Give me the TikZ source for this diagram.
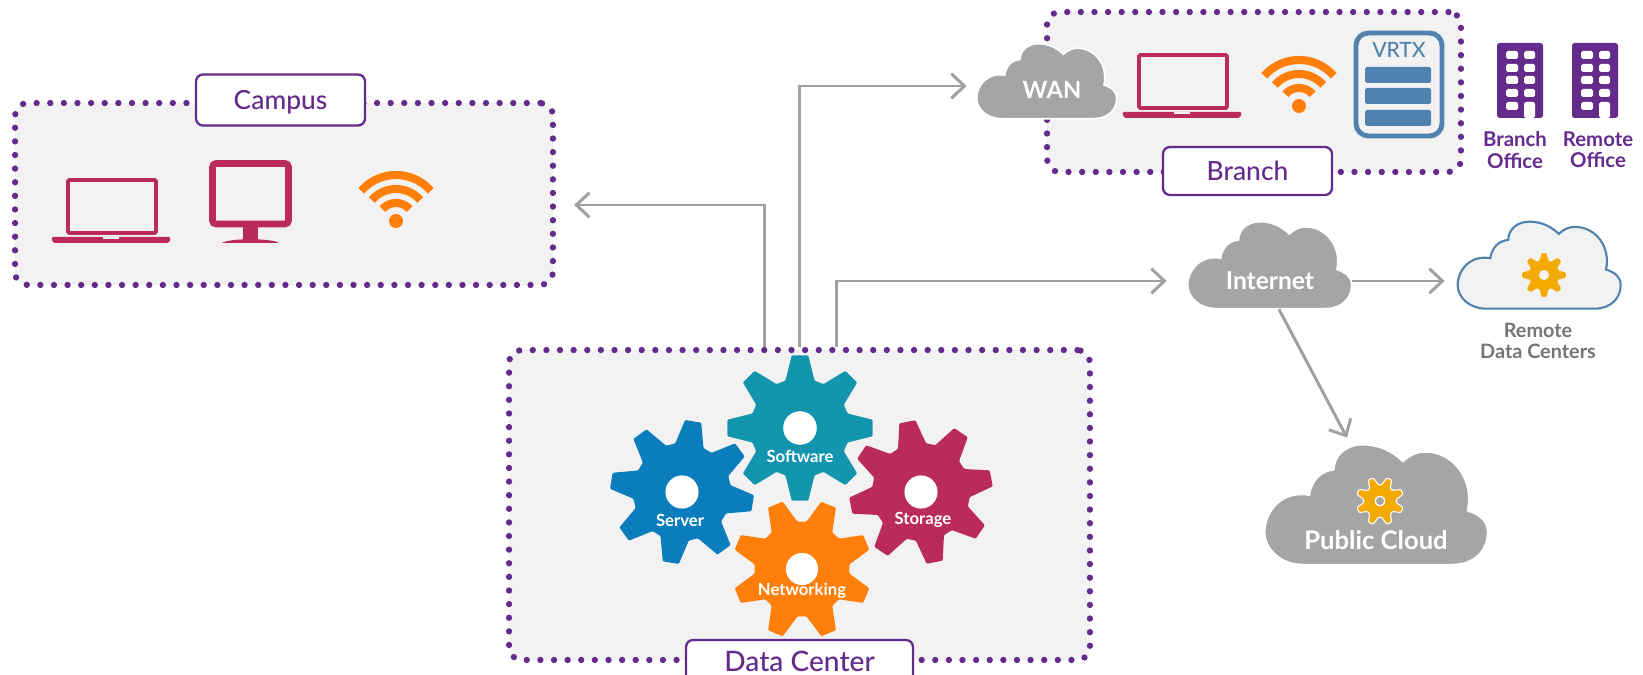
\documentclass[tikz,border=0pt]{standalone}
\usepackage{fontspec}
\setmainfont{Lato}
\newfontfamily\tagfont{Lato Medium}
\usepackage{xcolor}
\usetikzlibrary{positioning}
\usetikzlibrary{arrows.meta}
\usetikzlibrary{calc}
\definecolor{dcpurple}{HTML}{642B8C}
\definecolor{dcpanel}{HTML}{F2F2F2}
\definecolor{dccrimson}{HTML}{BB2A5C}
\definecolor{dcorange}{HTML}{FF7F0A}
\definecolor{dcteal}{HTML}{1395B0}
\definecolor{dcblue}{HTML}{0B7DBD}
\definecolor{dcgold}{HTML}{F2A900}
\definecolor{dccloud}{HTML}{A5A5A5}
\definecolor{dcline}{HTML}{A0A0A0}
\definecolor{dcsteel}{HTML}{4F82AE}
\definecolor{dctext}{HTML}{757575}
\tikzset{
  panel/.style={draw=dcpurple,fill=dcpanel,line width=3.6pt,line cap=round,dash pattern=on 0pt off 7.75pt,rounded corners=0.25cm,inner sep=0pt},
  tag/.style={draw=dcpurple,fill=white,line width=1.3pt,rounded corners=0.14cm,inner sep=0pt,text=dcpurple,font=\tagfont\fontsize{#1}{16}\selectfont,text height=2.3ex,text depth=.25ex},
  flow/.style={draw=dcline,line width=1.7pt,-{Straight Barb[length=7.5pt,width=14pt,line width=1.7pt]}},
  cloudbox/.style={inner sep=0pt},
  cloudtext/.style={text=white,inner sep=0pt,font=\fontsize{#1}{#1}\selectfont\bfseries},
  geartext/.style={text=white,inner sep=0pt,font=\fontsize{9.5}{10}\selectfont\bfseries},
  gray cloud/.style={fill=dccloud,draw=white,line width=1pt},
  pics/cloudshape/.style={code={
    \path[pic actions] (17,100) -- (84,100) .. controls (94,100) and (100,88) .. (100,73) .. controls (100,63) and (96,58) .. (91,55) .. controls (94,30) and (85,6) .. (72,6) .. controls (68,6) and (65,9) .. (62,14) .. controls (57,5) and (51,0) .. (44,0) .. controls (36,0) and (31,10) .. (31,21) .. controls (25,22) and (21,30) .. (20,42) .. controls (8,38) and (0,55) .. (0,73) .. controls (0,88) and (8,100) .. (17,100) -- cycle;
  }},
  pics/gearshape/.style={code={
    \path[pic actions,rounded corners=0.6pt] (-17:.68) \foreach \a in {0,45,...,315} { -- (\a-17:.68) -- (\a-6.5:1) -- (\a+6.5:1) -- (\a+17:.68) } -- cycle;
    \fill[#1] (0,0) circle (.23);
  }},
  pics/laptopshape/.style={code={
    \draw[dccrimson,line width=2.2pt,rounded corners=0.8pt] (17,2) rectangle (105,55);
    \fill[dccrimson,rounded corners=1pt] (0,59) -- (120,59) -- (118,65) -- (2,65) -- cycle;
    \fill[dcpanel] (52,59) rectangle (68,61.5);
  }},
  pics/monitorshape/.style={code={
    \draw[dccrimson,line width=3.8pt,rounded corners=2pt] (3.5,3.5) rectangle (79.5,64);
    \fill[dccrimson] (34,66) rectangle (49,80);
    \fill[dccrimson] (13,83) .. controls (20,78) and (63,78) .. (70,83) -- cycle;
  }},
  pics/wifishape/.style={code={
    \foreach \r in {18,32,46}
      \draw[dcorange,line width=4.6pt] plot[domain=-139:-41,samples=17,smooth] ({\r*cos(\x)},{\r*sin(\x)});
    \fill[dcorange] (0,0) circle (7);
  }},
  pics/officeshape/.style={code={
    \fill[dcpurple,rounded corners=1.5pt] (0,0) rectangle (46,75);
    \foreach \y in {8,21,33,46,59} \fill[white,rounded corners=1pt] (9,\y) rectangle (21,\y+8);
    \foreach \y in {8,21,33,46} \fill[white,rounded corners=1pt] (27,\y) rectangle (38,\y+8);
    \fill[white,rounded corners=1pt] (27,75) -- (27,59) -- (38,59) -- (38,75) -- cycle;
  }}
}
\begin{document}
\begin{tikzpicture}[x=0.02cm,y=-0.02cm]
  \useasboundingbox (0,0) rectangle (1643,675);
  \node [panel,minimum width=10.76cm,minimum height=3.64cm] (Campus) at (284,194) {};
  \node [tag=15,minimum width=3.38cm,minimum height=1.02cm] (CampusTag) at (280.5,100) {Campus};
  \node [panel,minimum width=8.28cm,minimum height=3.2cm] (Branch) at (1254,92) {};
  \node [tag=15,minimum width=3.38cm,minimum height=0.96cm] (BranchTag) at (1247.5,171) {Branch};
  \node [panel,minimum width=11.62cm,minimum height=6.2cm] (DataCenter) at (799.5,505) {};
  \node [tag=16,minimum width=4.54cm,minimum height=1.4cm] (DataCenterTag) at (799.5,675) {};
  \node [inner sep=0pt,text=dcpurple,font=\tagfont\fontsize{16}{18}\selectfont] (DataCenterText) at (799.5,661) {Data Center};
  \pic at (51,178) {laptopshape};
  \pic at (209,160) {monitorshape};
  \pic at (396,221) {wifishape};
  \pic at (1122,53) {laptopshape};
  \pic at (1299,106) {wifishape};
  \node [draw=dcsteel,fill=dcpanel,line width=2.8pt,rounded corners=0.25cm,minimum width=1.72cm,minimum height=2.06cm,inner sep=0pt] (Vrtx) at (1399,84.5) {};
  \node [text=dcsteel,inner sep=0pt,font=\tagfont\fontsize{12}{12}\selectfont] (VrtxText) at (1399,50) {VRTX};
  \foreach \y in {67,88,110} \fill[dcsteel,rounded corners=1pt] (1365,\y) rectangle (1431,\y+16);
  \pic at (1497,43) {officeshape};
  \pic at (1572,43) {officeshape};
  \node [text=dcpurple,align=center,inner sep=0pt,font=\fontsize{11.6}{12}\selectfont\bfseries] (BranchOffice) at (1515,150) {Branch\\Office};
  \node [text=dcpurple,align=center,inner sep=0pt,font=\fontsize{11.6}{12}\selectfont\bfseries] (RemoteOffice) at (1598,150) {Remote\\Office};
  \pic [fill=dcblue,scale=72,rotate=-9] at (682,492) {gearshape=white};
  \pic [fill=dccrimson,scale=72,rotate=11] at (921,492) {gearshape=white};
  \pic [fill=dcteal,scale=73] at (800,428) {gearshape=white};
  \pic [fill=dcorange,scale=70,rotate=22.5] at (802,569) {gearshape=white};
  \node [cloudbox,minimum width=2.8cm,minimum height=1.5cm] (WAN) at (1047,81.5) {};
  \node [cloudbox,minimum width=3.28cm,minimum height=1.74cm] (Internet) at (1270,265.5) {};
  \node [cloudbox,minimum width=3.26cm,minimum height=1.74cm] (Remote) at (1539.5,265.5) {};
  \node [cloudbox,minimum width=4.46cm,minimum height=2.4cm] (PublicCloud) at (1376.5,505) {};
  \pic [gray cloud,xscale=1.4,yscale=0.75] at (WAN.north west) {cloudshape};
  \pic [gray cloud,xscale=1.64,yscale=0.87] at (Internet.north west) {cloudshape};
  \pic [fill=dcpanel,draw=dcsteel,line width=1.2pt,xscale=1.63,yscale=0.87] at (Remote.north west) {cloudshape};
  \pic [gray cloud,xscale=2.23,yscale=1.2] at (PublicCloud.north west) {cloudshape};
  \node [cloudtext=13.5] (WANText) at (1052,90) {WAN};
  \node [cloudtext=14] (InternetText) at (1270,281) {Internet};
  \node [cloudtext=14.6] (PublicText) at (1376,540) {Public Cloud};
  \pic [fill=dcgold,scale=22] at (1544,275) {gearshape=dcpanel};
  \pic [fill=dcgold,draw=white,line width=0.6pt,scale=24,rotate=22.5] at (1380,501) {gearshape=white};
  \fill[dccloud] (1380,501) circle (4);
  \node [text=dctext,align=center,inner sep=0pt,font=\fontsize{11.3}{11.5}\selectfont\bfseries] (RemoteText) at (1538,341) {Remote\\Data Centers};
  \node [geartext] (Software) at (800,456) {Software};
  \node [geartext] (Server) at (680,520) {Server};
  \node [geartext] (Storage) at (923,520) {Storage};
  \node [geartext] (Networking) at (802,591) {Networking};
  \draw[flow] ($(DataCenter.north)+(-35,0)$) |- ($(Campus.east)+(18,11)$);
  \draw[flow] (DataCenter.north) |- ($(WAN.west)+(-10,4.5)$);
  \draw[flow] ($(DataCenter.north)+(37,0)$) |- ($(Internet.west)+(-21,15.5)$);
  \draw[flow] ($(Internet.east)+(0,15.5)$) -- ($(Remote.west)+(-13,15.5)$);
  \draw[flow] ($(Internet.south)+(9,0)$) -- ($(PublicCloud.north)+(-29.5,-7)$);
\end{tikzpicture}
\end{document}
